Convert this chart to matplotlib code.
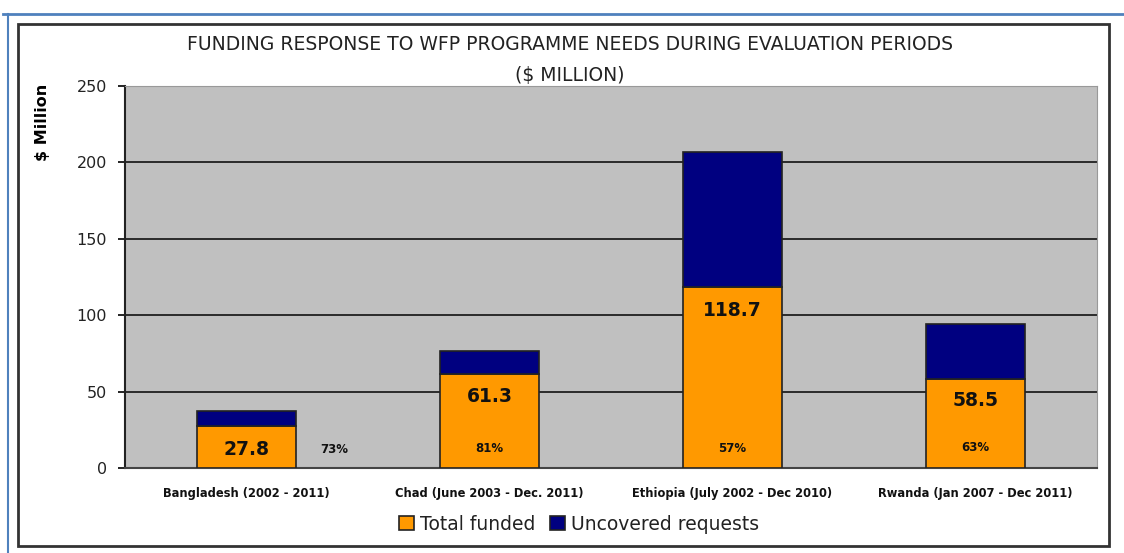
import numpy as np
import matplotlib.pyplot as plt
from matplotlib.patches import Rectangle

countries = ["Bangladesh (2002 - 2011)", "Chad (June 2003 - Dec. 2011)",
             "Ethiopia (July 2002 - Dec 2010)", "Rwanda (Jan 2007 - Dec 2011)"]
funded = [27.8, 61.3, 118.7, 58.5]
uncovered = [9.8, 15.3, 87.8, 35.8]
pct = ["73%", "81%", "57%", "63%"]

# where the labels sit (data units)
val_y = [12.4, 46.5, 103.0, 44.5]
pct_y = [12.4, 13.0, 13.0, 13.3]
pct_dx = [0.36, 0, 0, 0]

orange = "#FF9900"
navy = "#000080"

fig = plt.figure(figsize=(11.24, 5.53), dpi=100)

# outer frames
fig.add_artist(plt.Line2D([3/1124, 1], [1-14/553, 1-14/553], color="#4F81BD", lw=2))
fig.add_artist(plt.Line2D([8/1124, 8/1124], [0, 1-14/553], color="#4F81BD", lw=1.5))
fig.add_artist(Rectangle((18/1124, 1-546/553), (1109-18)/1124, (546-24)/553,
                         fill=False, ec="#333333", lw=2, transform=fig.transFigure))

ax = fig.add_axes([125/1124, 1-468/553, (1097-125)/1124, (468-86)/553])
ax.set_facecolor("#C0C0C0")
x = np.arange(len(countries))
ax.bar(x, funded, 0.41, color=orange, edgecolor="#222222", lw=1.2, label="Total funded", zorder=3)
ax.bar(x, uncovered, 0.41, bottom=funded, color=navy, edgecolor="#222222", lw=1.2,
       label="Uncovered requests", zorder=3)

for i in range(len(countries)):
    ax.text(x[i], val_y[i], f"{funded[i]}", ha="center", va="center",
            fontsize=13.5, fontweight="bold", color="#111111", zorder=4)
    ax.text(x[i] + pct_dx[i], pct_y[i], pct[i], ha="center", va="center",
            fontsize=8.5, fontweight="bold", color="#111111", zorder=4)

ax.set_xlim(-0.5, 3.5)
ax.set_ylim(0, 250)
ax.set_yticks([0, 50, 100, 150, 200, 250])
ax.yaxis.grid(True, color="#111111", lw=1.2, zorder=1)
ax.set_axisbelow(True)
ax.set_xticks(x)
ax.set_xticklabels(countries, fontsize=8.3, fontweight="bold", color="#111111")
ax.tick_params(axis="x", length=0, pad=14)
ax.tick_params(axis="y", direction="out", length=5, labelsize=11.5, pad=8, width=1.2,
               labelcolor="#222222")
for s in ["top", "right"]:
    ax.spines[s].set_color("#999999")
ax.spines["left"].set_color("#222222")
ax.spines["left"].set_linewidth(1.5)
ax.spines["bottom"].set_color("#444444")
ax.spines["bottom"].set_linewidth(1.5)

fig.text(42/1124, 1-122/553, "$ Million", rotation=90, ha="center", va="center",
         fontsize=11.5, fontweight="bold", family=["Liberation Sans Narrow", "DejaVu Sans"])
fig.text(570/1124, 1-45/553, "FUNDING RESPONSE TO WFP PROGRAMME NEEDS DURING EVALUATION PERIODS",
         ha="center", va="center", fontsize=13.5, color="#222222",
         family=["Liberation Sans Narrow", "DejaVu Sans"])
fig.text(570/1124, 1-75/553, "($ MILLION)", ha="center", va="center", fontsize=13.5,
         color="#222222", family=["Liberation Sans Narrow", "DejaVu Sans"])

fig.legend(loc="center", bbox_to_anchor=(579/1124, 1-524/553), ncol=2, frameon=False,
           fontsize=13.5, handlelength=0.8, handleheight=0.8, handletextpad=0.3,
           columnspacing=0.8, labelcolor="#222222")

plt.savefig("out.png")
